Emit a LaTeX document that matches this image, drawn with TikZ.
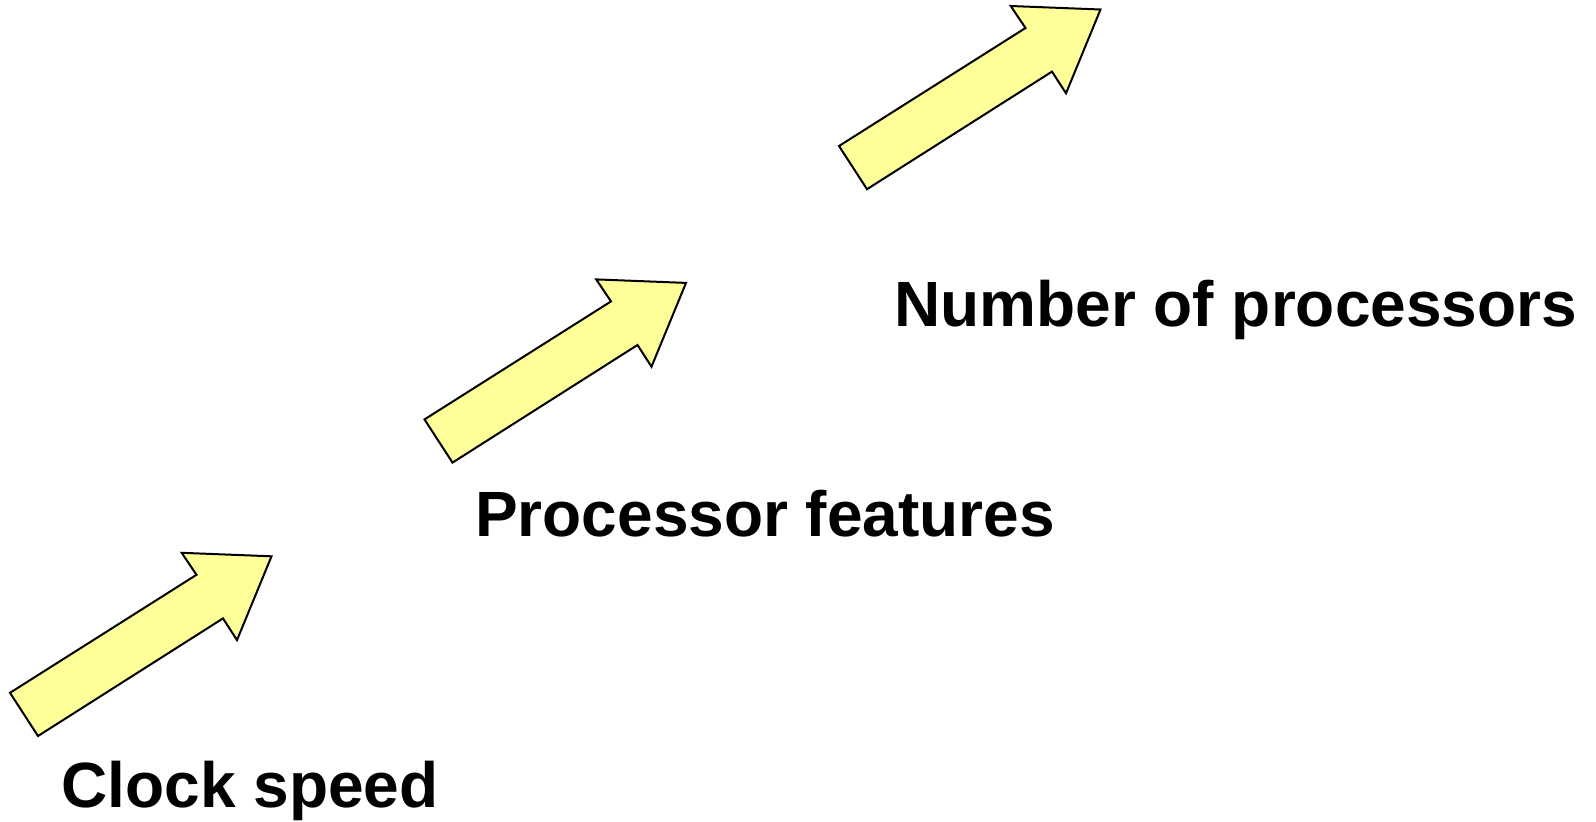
\documentclass[tikz,border=0pt]{standalone}
\usepackage{fontspec}
\setmainfont{Liberation Sans}
\usepackage{tikz}
\definecolor{paleyellow}{HTML}{FFFF99}

\begin{document}
\begin{tikzpicture}[
    x=1pt, y=-1pt,
    stepArrow/.style={draw=black, line width=2pt, line join=miter, fill=paleyellow},
    stepLabel/.style={anchor=base west, inner sep=0pt, font=\fontsize{64}{70}\selectfont\bfseries}
]
\useasboundingbox (0,0) rectangle (1596,822);

% --- arrows ---
\draw[stepArrow, shift={(10,692.8)}] (0,0) -- (186.5,-118) -- (171.7,-140) -- (261.5,-136.5)
    -- (227,-52.7) -- (213,-74.4) -- (28,43.2) -- cycle;
\draw[stepArrow, shift={(424.5,419.4)}] (0,0) -- (186.5,-118) -- (171.7,-140) -- (261.5,-136.5)
    -- (227,-52.7) -- (213,-74.4) -- (28,43.2) -- cycle;
\draw[stepArrow, shift={(839,146)}] (0,0) -- (186.5,-118) -- (171.7,-140) -- (261.5,-136.5)
    -- (227,-52.7) -- (213,-74.4) -- (28,43.2) -- cycle;

% --- labels ---
\node[stepLabel] (clock) at (61.5,807)  {Clock speed};
\node[stepLabel] (features) at (475,536) {Processor features};
\node[stepLabel] (count) at (894,326)   {Number of processors};

\end{tikzpicture}
\end{document}
